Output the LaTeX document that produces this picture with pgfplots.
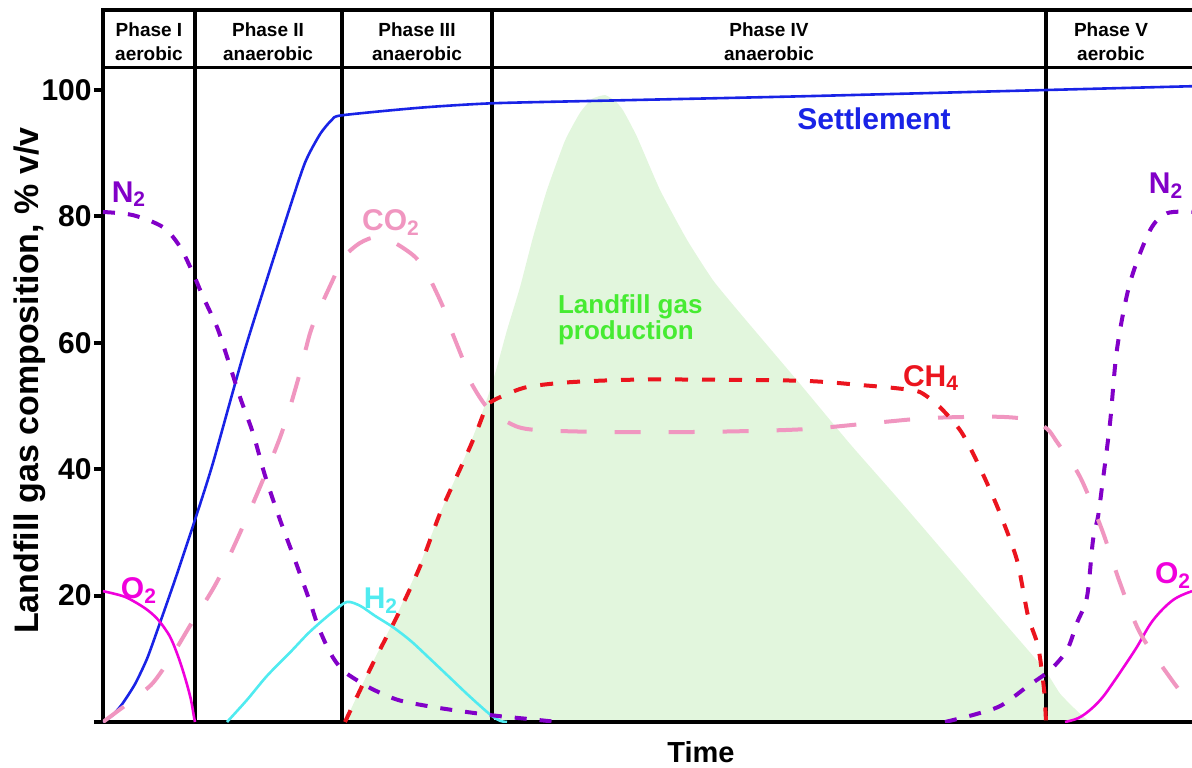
\documentclass[border=0pt]{standalone}
\usepackage{pgfplots}
\pgfplotsset{compat=1.18}
\usepackage{fontspec}
\setmainfont{Liberation Sans}

\definecolor{cSet}{RGB}{25,35,230}
\definecolor{cN2}{RGB}{130,0,200}
\definecolor{cO2}{RGB}{240,0,220}
\definecolor{cH2}{RGB}{80,235,240}
\definecolor{cCO2}{RGB}{240,150,192}
\definecolor{cCH4}{RGB}{235,20,30}
\definecolor{cGas}{RGB}{70,235,50}
\definecolor{cFill}{RGB}{226,246,221}

\begin{document}
\begin{tikzpicture}
\begin{axis}[
  scale only axis, width=544.5pt, height=356pt,
  xmin=103, xmax=1192, ymin=0, ymax=112.66,
  axis line style={draw=none},
  xtick=\empty,
  ytick={0,20,40,60,80,100},
  yticklabels={,20,40,60,80,100},
  tick align=outside, major tick length=4.5pt,
  ytick style={black, line width=2pt},
  tick pos=left,
  yticklabel style={font=\bfseries\fontsize{15}{15}\selectfont, inner sep=1pt},
  /pgf/number format/assume math mode=true,
  clip mode=individual,
]
\coordinate (O) at (axis cs:103,0);

% landfill gas production area
\addplot[fill=cFill, draw=none, smooth, tension=0.3] coordinates {
 (345,0) (373,9.5) (397,17) (420,25) (440,33) (465,42) (480,48) (490,52.5)
 (497,56.2) (507,62) (520,68.8) (533,76.7) (547,84.2) (565,92) (580,96.4)
 (592,98.6) (605,99.2) (615,98.3) (623,96.8) (637,92.6) (660,84.2) (687,76.3)
 (713,69.9) (740,64.7) (800,53.5) (850,44) (900,35) (951,25.6) (1000,16.5)
 (1044,8.4) (1060,4.5) (1078,1.6) (1090,0)
} \closedcycle;

% phase lines and frame
\draw[line width=2pt] (axis cs:195,0) -- (axis cs:195,112.66);
\draw[line width=2pt] (axis cs:342,0) -- (axis cs:342,112.66);
\draw[line width=2pt] (axis cs:492,0) -- (axis cs:492,112.66);
\draw[line width=2pt] (axis cs:1046,0) -- (axis cs:1046,112.66);
\draw[line width=1.6pt] (axis cs:103,103.5) -- (axis cs:1192,103.5);
\draw[line width=2pt, line join=miter] (axis cs:1192,112.66) -- (axis cs:103,112.66) -- (axis cs:103,0) -- (axis cs:1192,0);

% Settlement
\addplot[cSet, line width=1.3pt, smooth, tension=0.4] coordinates {
 (103,0) (112,1) (122,2.8) (135,6) (147,10) (158,14.8) (175,22.5) (195,32) (213,41)
 (245,59) (287,80) (305,88.5) (320,93) (332,95.3) (342,96) (420,97.2)
 (492,97.9) (600,98.3) (800,99) (1046,100) (1192,100.6)
};

% O2 left
\addplot[cO2, line width=1.3pt, smooth, tension=0.5] coordinates {
 (103,20.7) (125,19.8) (145,18) (158,16.2) (170,13.5) (179,10) (186,6.5) (191,3.5) (194,0.8) (195,0)
};
% O2 right
\addplot[cO2, line width=1.3pt, smooth, tension=0.6] coordinates {
 (1065,0) (1078,0.6) (1090,1.9) (1102,3.8) (1113,6.2) (1125,9) (1137,11.9) (1153,16.1) (1173,19.3) (1192,20.7)
};

% H2
\addplot[cH2, line width=1.3pt, smooth, tension=0.5] coordinates {
 (227,0) (247,3.5) (267,7.3) (290,11) (308,14) (322,16) (335,17.7) (347,19)
 (360,18.4) (375,16.8) (393,15) (411,12.8) (430,10) (450,7) (470,4) (490,1.2) (500,0.2) (507,0)
};

% N2 left
\addplot[cN2, line width=2pt, dash pattern=on 6pt off 6.5pt, smooth, tension=0.5] coordinates {
 (103,80.7) (133,80.2) (163,78.3) (180,75.2) (193,71) (203,67.3) (217,62.5) (227,57.8)
 (240,51.4) (253,45.7) (265,39) (280,32) (295,25.6) (310,19) (318,15.2) (330,11)
 (342,8.3) (357,6.6) (375,5) (400,3.4) (440,2.2) (490,1.1) (527,0.5) (558,0)
};
% N2 right
\addplot[cN2, line width=2pt, dash pattern=on 6pt off 6.5pt, smooth, tension=0.5] coordinates {
 (945,0) (975,1.2) (1001,2.6) (1028,5.7) (1050,8.2) (1067,11.4) (1077,15.7) (1087,19.8)
 (1093,28.8) (1098,32.5) (1102,37.2) (1110,47.3) (1117,59) (1130,69.5) (1150,77.8)
 (1167,80.5) (1192,80.7)
};

% CO2
\addplot[cCO2, line width=2pt, dash pattern=on 13pt off 14pt, smooth, tension=0.5] coordinates {
 (103,0) (120,2) (135,3.8) (153,6.2) (172,10.5) (191,15.5) (218,22.5) (250,33.5)
 (280,45) (297,53.6) (310,61.5) (320,65.5) (333,70) (343,73.4) (360,75.8) (378,76.8)
 (395,75.8) (415,73.6) (427,71) (443,65.7) (450,62.5) (463,57.3) (470,54) (487,49.8)
 (507,47.5) (530,46.3) (600,45.9) (700,45.9) (800,46.3) (872,47.3) (930,48.1)
 (997,48.3) (1030,47.8) (1047,46.4) (1057,44.3) (1080,38.8) (1102,30.4) (1120,22)
 (1140,14.1) (1172,6.6) (1192,2.5)
};

% CH4
\addplot[cCH4, line width=2pt, dash pattern=on 6.5pt off 7pt, smooth, tension=0.45] coordinates {
 (345,0) (373,9.3) (397,16.7) (420,24.6) (440,33) (460,40) (470,43.5) (478,46.5)
 (484,49) (488,50.3) (500,51.4) (527,53) (573,53.8) (650,54.2) (800,54) (862,53.3)
 (897,52.8) (920,52.2) (940,49.8) (960,46.2) (973,42.5) (987,37.8) (1000,33)
 (1017,25.6) (1028,16.8) (1038,12) (1044,5.2) (1046,0)
};

% labels
\node[font=\bfseries\fontsize{15}{15}\selectfont, text=cSet] at (axis cs:874,95.5) {Settlement};
\node[font=\bfseries\fontsize{15}{15}\selectfont, text=cN2] at (axis cs:129,83.5) {N\textsubscript{2}};
\node[font=\bfseries\fontsize{15}{15}\selectfont, text=cN2] at (axis cs:1166,84.9) {N\textsubscript{2}};
\node[font=\bfseries\fontsize{15}{15}\selectfont, text=cCO2] at (axis cs:391,79) {CO\textsubscript{2}};
\node[font=\bfseries\fontsize{15}{15}\selectfont, text=cCH4] at (axis cs:931,54.4) {CH\textsubscript{4}};
\node[font=\bfseries\fontsize{15}{15}\selectfont, text=cH2] at (axis cs:381,19.2) {H\textsubscript{2}};
\node[font=\bfseries\fontsize{15}{15}\selectfont, text=cO2] at (axis cs:139,20.8) {O\textsubscript{2}};
\node[font=\bfseries\fontsize{15}{15}\selectfont, text=cO2] at (axis cs:1173,23.2) {O\textsubscript{2}};
\node[font=\bfseries\fontsize{13}{13}\selectfont, text=cGas, align=left, anchor=west] at (axis cs:551,63.7) {Landfill gas\\production};

% phase headers
\node[font=\bfseries\fontsize{9.5}{12}\selectfont, align=center] at (axis cs:149,107.7) {Phase I\\aerobic};
\node[font=\bfseries\fontsize{9.5}{12}\selectfont, align=center] at (axis cs:268,107.7) {Phase II\\anaerobic};
\node[font=\bfseries\fontsize{9.5}{12}\selectfont, align=center] at (axis cs:417,107.7) {Phase III\\anaerobic};
\node[font=\bfseries\fontsize{9.5}{12}\selectfont, align=center] at (axis cs:769,107.7) {Phase IV\\anaerobic};
\node[font=\bfseries\fontsize{9.5}{12}\selectfont, align=center] at (axis cs:1111,107.7) {Phase V\\aerobic};

% axis titles
\node[font=\bfseries\fontsize{17}{17}\selectfont, rotate=90] at ([xshift=-36.5pt]axis cs:103,54) {Landfill gas composition, \% v/v};
\node[font=\bfseries\fontsize{14.5}{14.5}\selectfont] at ([yshift=-15pt]axis cs:701,0) {Time};
\end{axis}
\pgfresetboundingbox
\path[use as bounding box] ([shift={(-51.5pt,-22.5pt)}]O) rectangle ([shift={(544.5pt,361pt)}]O);
\end{tikzpicture}
\end{document}
